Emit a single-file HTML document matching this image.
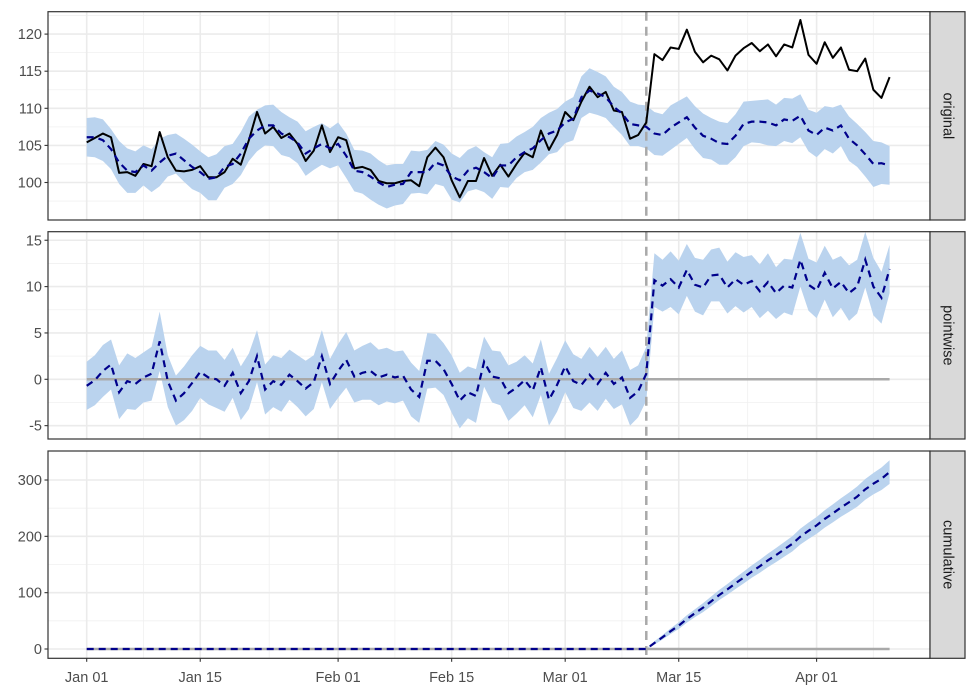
<!DOCTYPE html>
<html><head><meta charset="utf-8">
<style>
html,body{margin:0;padding:0;background:#fff;}
svg{display:block;font-family:"Liberation Sans",Arial,sans-serif;}
</style></head>
<body>
<svg id="chart" width="976" height="695" viewBox="0 0 976 695" xmlns="http://www.w3.org/2000/svg"></svg>
<script>
// ---- data ----
const tickDays = [0, 14, 31, 45, 59, 73, 90];
const tickLabels = ["Jan 01", "Jan 15", "Feb 01", "Feb 15", "Mar 01", "Mar 15", "Apr 01"];
const minorDays = [7, 22.5, 38, 52, 66, 81.5, 97];
const interventionDay = 69;
const observed = [
105.4,106.0,106.6,106.1,101.3,101.4,100.9,102.5,102.2,106.8,
103.4,101.6,101.5,101.7,102.2,100.7,100.7,101.4,103.2,102.4,
105.7,109.5,106.6,107.5,106.0,106.6,105.2,102.9,104.3,107.7,
104.1,106.1,105.7,101.9,102.1,101.7,100.2,99.9,99.9,100.2,
100.3,99.5,103.4,104.7,103.4,100.3,98.0,100.2,100.2,103.3,
100.9,102.4,100.8,102.5,104.0,103.4,107.0,104.4,106.4,109.5,
108.4,110.9,112.9,111.5,112.2,109.7,109.5,105.9,106.4,108.1,
117.3,116.5,118.2,118.0,120.6,117.6,116.2,117.1,116.6,115.1,
117.1,118.1,118.8,117.7,118.6,117.0,118.6,118.2,121.9,117.2,
116.0,118.9,116.8,118.2,115.2,115.0,116.7,112.5,111.4,114.2];
const predicted = [
106.1,106.1,105.7,104.5,102.7,101.6,101.4,102.3,101.6,102.7,
103.6,103.9,103.0,102.1,101.4,100.5,100.7,102.1,102.5,103.9,
105.9,107.0,107.7,107.7,106.6,106.1,105.4,103.9,104.6,105.2,
104.6,105.2,103.6,101.6,101.4,100.8,100.0,99.4,99.7,99.8,
101.4,101.4,101.4,102.7,102.3,100.8,100.3,101.6,102.0,101.4,
100.6,102.3,102.3,103.4,104.1,104.6,105.7,106.6,107.0,108.1,
108.6,111.5,112.4,112.0,111.5,110.2,109.3,107.9,107.7,107.5,
106.6,106.4,107.4,108.1,108.8,107.4,106.3,105.9,105.3,105.2,
106.3,107.9,108.2,108.2,108.1,107.7,108.5,108.3,109.0,107.0,
106.4,107.4,107.0,107.7,105.9,105.0,103.8,102.5,102.6,102.3];
const bandHalf = [
2.6,2.7,2.8,2.7,2.9,3.0,2.8,2.7,2.9,3.2,
2.8,2.7,2.9,3.0,2.8,2.9,3.1,2.8,2.7,2.9,
3.0,2.8,2.7,2.8,2.9,2.7,2.8,3.0,2.9,2.8,
2.7,2.9,3.0,2.8,2.9,3.1,3.0,2.9,2.8,2.7,
2.9,2.8,3.0,2.9,2.8,3.1,3.0,2.8,2.9,2.7,
2.8,2.9,3.0,2.8,2.7,2.9,3.0,2.8,2.9,2.8,
2.9,2.8,3.0,2.9,2.8,2.7,2.9,3.0,2.8,2.9,
2.9,2.8,3.0,2.9,2.8,2.9,3.0,2.8,2.9,2.8,
2.9,3.0,2.8,2.9,3.1,2.8,2.9,3.0,2.9,2.8,
3.0,2.9,3.1,2.8,3.0,2.9,3.0,3.1,2.8,2.6];
const cumBandHalf = [0,3,4,5,6,6.5,7,8,8.5,9,9.5,10,10.5,11,11.5,12,12.5,13,13.5,14,14.5,15,15.5,16,16.5,17,18,18.5,19,20,21];

// ---- layout ----
const svg = document.getElementById('chart');
const NS = 'http://www.w3.org/2000/svg';
const X0 = 48, X1 = 930;
const xDay = d => 86.7 + d * 8.11;
const panels = [
  {name:'original', top:11.7, bot:220, y:v => 182.5 - (v-100)*7.42, major:[100,105,110,115,120], minor:[97.5,102.5,107.5,112.5,117.5,122.5]},
  {name:'pointwise', top:231.7, bot:439, y:v => 379.3 - v*9.27, major:[-5,0,5,10,15], minor:[-2.5,2.5,7.5,12.5]},
  {name:'cumulative', top:451, bot:658.3, y:v => 649 - v*0.5633, major:[0,100,200,300], minor:[50,150,250]}
];
function el(tag, attrs, parent){
  const e = document.createElementNS(NS, tag);
  for (const k in attrs) e.setAttribute(k, attrs[k]);
  (parent||svg).appendChild(e);
  return e;
}
function pathFrom(xs, ys){ return xs.map((x,i)=>(i?'L':'M')+x.toFixed(2)+','+ys[i].toFixed(2)).join(''); }
const n = observed.length;
const days = observed.map((_,i)=>i);

// derived series
const pw = observed.map((v,i)=>v - predicted[i]);
const cum = []; let acc = 0;
for (let i=0;i<n;i++){ if (i>interventionDay) acc += pw[i]; cum.push(acc); }

panels.forEach((p, pi) => {
  const g = el('g', {});
  
  
  el('rect', {x:X0, y:p.top, width:X1-X0, height:p.bot-p.top, fill:'#fff'}, g);
  // grid
  p.minor.forEach(v => { const y=p.y(v); if(y>p.top&&y<p.bot) el('line',{x1:X0,x2:X1,y1:y,y2:y,stroke:'#f0f0f0','stroke-width':0.8},g); });
  minorDays.forEach(d => { const x=xDay(d); el('line',{x1:x,x2:x,y1:p.top,y2:p.bot,stroke:'#f0f0f0','stroke-width':0.8},g); });
  p.major.forEach(v => { const y=p.y(v); el('line',{x1:X0,x2:X1,y1:y,y2:y,stroke:'#ebebeb','stroke-width':1.6},g); });
  tickDays.forEach(d => { const x=xDay(d); el('line',{x1:x,x2:x,y1:p.top,y2:p.bot,stroke:'#ebebeb','stroke-width':1.6},g); });

  // series
  let lo, hi, mid;
  if (pi===0){ lo = predicted.map((v,i)=>v-bandHalf[i]); hi = predicted.map((v,i)=>v+bandHalf[i]); mid = predicted; }
  else if (pi===1){ lo = pw.map((v,i)=>v-bandHalf[i]); hi = pw.map((v,i)=>v+bandHalf[i]); mid = pw; }
  else { lo = cum.map((v,i)=> i>interventionDay ? v - cumBandHalf[i-interventionDay] : v); hi = cum.map((v,i)=> i>interventionDay ? v + cumBandHalf[i-interventionDay] : v); mid = cum; }
  const xs = days.map(xDay);
  const band = el('path', {d: pathFrom(xs, hi.map(p.y)) + pathFrom(xs.slice().reverse(), lo.map(p.y).reverse()).replace('M','L') + 'Z', fill:'#bad3ee', stroke:'none'}, g);
  
  
  if (pi>0){
    const z = el('line', {x1:xDay(0), x2:xDay(n-1), y1:p.y(0), y2:p.y(0), stroke:'#a9a9a9', 'stroke-width':2.5}, g);
    
    
  }
  const vl = el('line', {x1:xDay(interventionDay), x2:xDay(interventionDay), y1:p.top, y2:p.bot, stroke:'#a9a9a9', 'stroke-width':2.5, 'stroke-dasharray':'9,6'}, g);
  
  
  if (pi===0){
    const ob = el('path', {d: pathFrom(xs, observed.map(p.y)), fill:'none', stroke:'#000', 'stroke-width':2, 'stroke-linejoin':'round'}, g);
    
    
  }
  const ml = el('path', {d: pathFrom(xs, mid.map(p.y)), fill:'none', stroke:'#00008b', 'stroke-width':2.2, 'stroke-dasharray':'7,5'}, g);
  
  

  el('rect', {x:X0, y:p.top, width:X1-X0, height:p.bot-p.top, fill:'none', stroke:'#333', 'stroke-width':1.2}, g);
  // y ticks
  p.major.forEach(v => {
    const y = p.y(v);
    el('line', {x1:X0-3.5, x2:X0, y1:y, y2:y, stroke:'#333','stroke-width':1.1}, g);
    const t = el('text', {x:X0-6, y:y+5, 'text-anchor':'end', 'font-size':14.5, fill:'#4d4d4d'}, g);
    t.textContent = v;
    
    
  });
  // strip
  const s = el('g', {});
  
  
  el('rect', {x:X1, y:p.top, width:35, height:p.bot-p.top, fill:'#d9d9d9', stroke:'#333', 'stroke-width':1.2}, s);
  const cy = (p.top+p.bot)/2;
  const st = el('text', {x:X1+17.5, y:cy, transform:'rotate(90 '+(X1+17.5)+' '+cy+')', 'text-anchor':'middle', 'dominant-baseline':'central', 'font-size':14.5, fill:'#1a1a1a'}, s);
  st.textContent = p.name;
});

// x axis
const bp = panels[2];
tickDays.forEach((d,i) => {
  const x = xDay(d);
  el('line', {x1:x, x2:x, y1:bp.bot, y2:bp.bot+3.5, stroke:'#333','stroke-width':1.1});
  const t = el('text', {x:x, y:682, 'text-anchor':'middle', 'font-size':14.5, fill:'#4d4d4d'});
  t.textContent = tickLabels[i];
  
  
});
</script>
</body></html>
